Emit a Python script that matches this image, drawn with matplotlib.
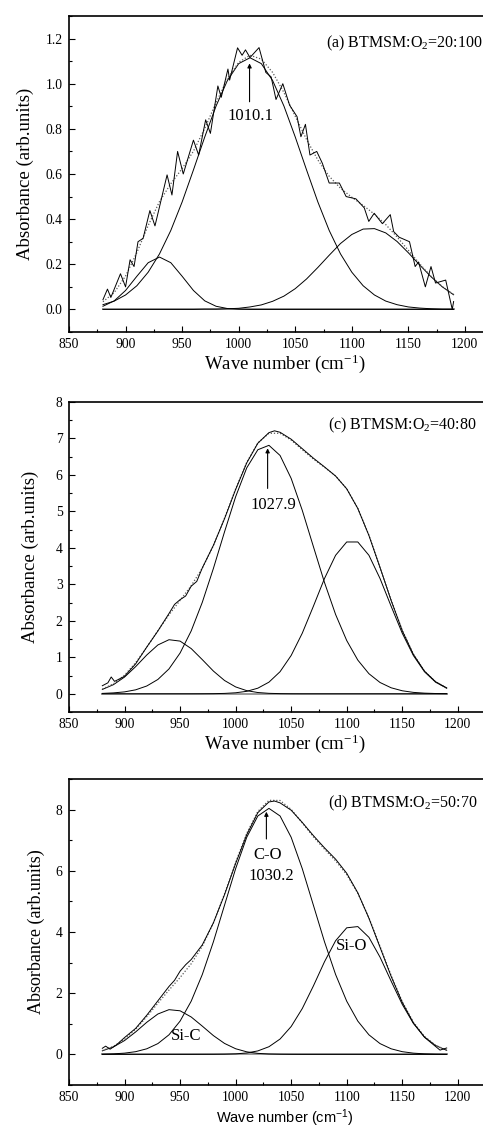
import matplotlib
matplotlib.use("Agg")
import matplotlib.pyplot as plt
from matplotlib.ticker import MultipleLocator, FormatStrFormatter

plt.rcParams['font.family'] = ['Liberation Serif', 'DejaVu Serif']
plt.rcParams['mathtext.fontset'] = 'custom'
plt.rcParams['mathtext.rm'] = 'Liberation Serif'
plt.rcParams['mathtext.it'] = 'Liberation Serif'
plt.rcParams['mathtext.sf'] = 'Liberation Sans'

# common wave number grid of the fitted curves (cm-1)
wn = [880, 890, 900, 910, 920, 930, 940, 950, 960, 970, 980, 990, 1000, 1010,
      1020, 1030, 1040, 1050, 1060, 1070, 1080, 1090, 1100, 1110, 1120, 1130,
      1140, 1150, 1160, 1170, 1180, 1190]
base_x = [880, 1190]
base_y = [0, 0]

# ---- (a) BTMSM:O2 = 20:100 ----
a_meas_x = [880, 884, 887, 895.5, 900, 904, 907.5, 911, 915.5, 921.5, 926, 936.7,
            941, 946, 951, 960, 964.6, 970.8, 975, 981.6, 984.6, 990.5, 992, 999,
            1003, 1006, 1010, 1018, 1024, 1028.7, 1033, 1039, 1045, 1051.6, 1055,
            1059, 1063, 1069, 1074, 1080, 1089, 1095, 1103.6, 1111, 1115, 1119.8,
            1127, 1134, 1137, 1141.8, 1151, 1156, 1159, 1165, 1170, 1174, 1183,
            1188.8, 1190]
a_meas_y = [0.043, 0.09, 0.053, 0.158, 0.10, 0.22, 0.19, 0.30, 0.315, 0.438, 0.37,
            0.596, 0.507, 0.70, 0.60, 0.75, 0.684, 0.84, 0.78, 0.99, 0.94, 1.065,
            1.016, 1.159, 1.126, 1.15, 1.116, 1.16, 1.05, 1.03, 0.93, 1.00, 0.905,
            0.854, 0.765, 0.82, 0.684, 0.70, 0.647, 0.56, 0.56, 0.50, 0.49, 0.45,
            0.39, 0.426, 0.38, 0.42, 0.345, 0.32, 0.30, 0.19, 0.21, 0.10, 0.19,
            0.117, 0.13, 0.0, 0.035]
a_fit = [0.034, 0.075, 0.148, 0.252, 0.372, 0.478, 0.557, 0.624, 0.701, 0.802, 0.916,
         1.021, 1.095, 1.126, 1.109, 1.050, 0.961, 0.856, 0.753, 0.662, 0.590, 0.537,
         0.497, 0.461, 0.422, 0.376, 0.321, 0.262, 0.202, 0.147, 0.101, 0.066]
a_p1 = [0.014, 0.038, 0.084, 0.147, 0.207, 0.232, 0.207, 0.147, 0.084, 0.038, 0.014,
        0.004, 0.001, 0, 0, 0, 0, 0, 0, 0, 0, 0, 0, 0, 0, 0, 0, 0, 0, 0, 0, 0]
a_p2 = [0.021, 0.037, 0.064, 0.105, 0.165, 0.246, 0.350, 0.476, 0.618, 0.764, 0.901,
        1.014, 1.089, 1.115, 1.089, 1.014, 0.901, 0.764, 0.618, 0.476, 0.350, 0.246,
        0.165, 0.105, 0.064, 0.037, 0.021, 0.011, 0.006, 0.003, 0.001, 0.001]
a_p3 = [0, 0, 0, 0, 0, 0, 0, 0, 0.000, 0.001, 0.001, 0.003, 0.005, 0.011, 0.020,
        0.036, 0.059, 0.092, 0.135, 0.186, 0.240, 0.292, 0.332, 0.356, 0.358, 0.339,
        0.301, 0.251, 0.197, 0.145, 0.100, 0.065]

# ---- (c) BTMSM:O2 = 40:80 ----
c_meas_x = [880, 885, 888, 891, 895, 900, 910, 920, 930, 940, 945, 950, 955, 960,
            965, 970, 980, 990, 1000, 1010, 1020, 1030, 1035, 1040, 1050, 1060, 1070,
            1080, 1090, 1100, 1110, 1120, 1130, 1140, 1150, 1160, 1170, 1180, 1190]
c_meas_y = [0.22, 0.30, 0.46, 0.34, 0.40, 0.48, 0.82, 1.28, 1.72, 2.20, 2.45, 2.58,
            2.68, 2.95, 3.08, 3.45, 4.07, 4.80, 5.60, 6.33, 6.87, 7.16, 7.21, 7.17,
            6.98, 6.72, 6.46, 6.22, 5.97, 5.62, 5.08, 4.34, 3.46, 2.56, 1.73, 1.08,
            0.62, 0.33, 0.16]
c_fit = [0.129, 0.272, 0.511, 0.852, 1.276, 1.730, 2.163, 2.561, 2.962, 3.445, 4.062,
         4.813, 5.616, 6.345, 6.878, 7.142, 7.143, 6.956, 6.691, 6.435, 6.211, 5.971,
         5.622, 5.085, 4.347, 3.469, 2.562, 1.743, 1.088, 0.622, 0.325, 0.156]
c_p1 = [0.119, 0.249, 0.458, 0.744, 1.063, 1.338, 1.482, 1.444, 1.239, 0.936, 0.622,
        0.364, 0.188, 0.085, 0.034, 0.012, 0.004, 0.001, 0, 0, 0, 0, 0, 0, 0, 0, 0,
        0, 0, 0, 0, 0]
c_p2 = [0.010, 0.024, 0.052, 0.108, 0.213, 0.392, 0.681, 1.117, 1.723, 2.508, 3.437,
        4.439, 5.401, 6.194, 6.691, 6.812, 6.534, 5.905, 5.029, 4.036, 3.051, 2.174,
        1.460, 0.923, 0.550, 0.309, 0.164, 0.082, 0.038, 0.017, 0.007, 0.003]
c_p3 = [0, 0, 0, 0, 0, 0, 0, 0, 0, 0.001, 0.003, 0.010, 0.027, 0.067, 0.153, 0.318,
        0.605, 1.050, 1.661, 2.399, 3.160, 3.797, 4.162, 4.162, 3.797, 3.160, 2.399,
        1.661, 1.050, 0.605, 0.318, 0.153]

# ---- (d) BTMSM:O2 = 50:70 ----
d_meas_x = [880, 883, 887, 893, 900, 910, 920, 930, 940, 945, 950, 955, 960, 970,
            980, 990, 1000, 1010, 1020, 1030, 1035, 1040, 1050, 1060, 1070, 1080,
            1090, 1100, 1110, 1120, 1130, 1140, 1150, 1160, 1170, 1180, 1184, 1190]
d_meas_y = [0.20, 0.27, 0.17, 0.32, 0.55, 0.85, 1.28, 1.75, 2.22, 2.42, 2.72, 2.93,
            3.10, 3.58, 4.30, 5.22, 6.24, 7.18, 7.90, 8.25, 8.28, 8.22, 7.98, 7.58,
            7.15, 6.75, 6.38, 5.92, 5.28, 4.45, 3.50, 2.55, 1.70, 1.03, 0.56, 0.26,
            0.14, 0.21]
d_fit = [0.124, 0.263, 0.493, 0.823, 1.232, 1.673, 2.102, 2.513, 2.962, 3.535, 4.297,
         5.242, 6.271, 7.226, 7.940, 8.303, 8.298, 8.007, 7.567, 7.112, 6.707, 6.326,
         5.876, 5.265, 4.466, 3.531, 2.577, 1.725, 1.055, 0.587, 0.298, 0.137]
d_p1 = [0.117, 0.245, 0.452, 0.734, 1.049, 1.320, 1.462, 1.425, 1.223, 0.924, 0.614,
        0.359, 0.185, 0.084, 0.034, 0.012, 0.004, 0.001, 0, 0, 0, 0, 0, 0, 0, 0, 0,
        0, 0, 0, 0, 0]
d_p2 = [0.007, 0.018, 0.041, 0.089, 0.183, 0.353, 0.640, 1.088, 1.739, 2.611, 3.681,
        4.876, 6.069, 7.095, 7.792, 8.040, 7.792, 7.095, 6.069, 4.876, 3.681, 2.611,
        1.739, 1.088, 0.640, 0.353, 0.183, 0.089, 0.041, 0.018, 0.007, 0.003]
d_p3 = [0, 0, 0, 0, 0, 0, 0, 0, 0, 0.001, 0.002, 0.006, 0.017, 0.047, 0.114, 0.251,
        0.502, 0.911, 1.498, 2.236, 3.027, 3.715, 4.137, 4.177, 3.826, 3.178, 2.394,
        1.636, 1.014, 0.570, 0.291, 0.134]

fig = plt.figure(figsize=(4.83, 11.28), dpi=100)
W, H = 483.0, 1128.0


# axes placed in pixel units, right side runs off the figure like the original scan
def make_axes(top, bottom, xmax, ylim, major, minor):
    ax = fig.add_axes([69 / W, 1 - bottom / H, 431 / W, (bottom - top) / H])
    ax.set_xlim(850, xmax)
    ax.set_ylim(*ylim)
    ax.xaxis.set_major_locator(MultipleLocator(50))
    ax.xaxis.set_minor_locator(MultipleLocator(25))
    ax.yaxis.set_major_locator(MultipleLocator(major))
    ax.yaxis.set_minor_locator(MultipleLocator(minor))
    ax.tick_params(which='both', direction='in', top=False, right=False,
                   labelsize=9.8, width=0.8, pad=4.5)
    ax.tick_params(which='major', length=4.3)
    ax.tick_params(which='minor', length=2.4)
    for s in ax.spines.values():
        s.set_linewidth(1.2)
    return ax


def draw_curves(ax, mx, my, fit, parts):
    ax.plot(base_x, base_y, color='0.6', lw=1.4)
    for p in parts:
        ax.plot(wn, p, color='black', lw=0.7)
    ax.plot(wn, fit, color='0.35', lw=0.9, linestyle=(0, (1, 1.5)))
    ax.plot(mx, my, color='black', lw=0.7)


def arrow(ax, x, y0, y1):
    ax.annotate('', xy=(x, y1), xytext=(x, y0),
                arrowprops=dict(arrowstyle='-|>', color='black', lw=0.8,
                                mutation_scale=6, shrinkA=0, shrinkB=0))


xlab = 'Wave number (cm$^{-1}$)'
ylab = 'Absorbance (arb.units)'

# panel (a)
ax1 = make_axes(16, 332, 1231, (-0.1, 1.3), 0.2, 0.1)
draw_curves(ax1, a_meas_x, a_meas_y, a_fit, [a_p1, a_p2, a_p3])
ax1.yaxis.set_major_formatter(FormatStrFormatter('%.1f'))
arrow(ax1, 1009.6, 0.92, 1.09)
ax1.text(1010, 0.855, '1010.1', ha='center', va='center', fontsize=12)
ax1.text(1216, 1.18, '(a) BTMSM:O$_2$=20:100', ha='right', va='center', fontsize=11.5)
ax1.set_xlabel(xlab, fontsize=13.5, labelpad=1)
ax1.set_ylabel(ylab, fontsize=13.5, labelpad=8.6)

# panel (c)
ax2 = make_axes(402, 712, 1238, (-0.5, 8), 1, 0.5)
draw_curves(ax2, c_meas_x, c_meas_y, c_fit, [c_p1, c_p2, c_p3])
arrow(ax2, 1028.8, 5.63, 6.73)
ax2.text(1034, 5.17, '1027.9', ha='center', va='center', fontsize=12)
ax2.text(1217, 7.37, '(c) BTMSM:O$_2$=40:80', ha='right', va='center', fontsize=11.5)
ax2.set_xlabel(xlab, fontsize=13.5, labelpad=1)
ax2.set_ylabel(ylab, fontsize=13.5, labelpad=12)

# panel (d)
ax3 = make_axes(779, 1085, 1238, (-1, 9), 2, 1)
draw_curves(ax3, d_meas_x, d_meas_y, d_fit, [d_p1, d_p2, d_p3])
arrow(ax3, 1027.7, 7.04, 7.93)
ax3.text(1028.6, 6.52, 'C-O', ha='center', va='center', fontsize=12)
ax3.text(1032, 5.82, '1030.2', ha='center', va='center', fontsize=12)
ax3.text(955.7, 0.6, 'Si-C', ha='center', va='center', fontsize=12)
ax3.text(1104, 3.53, 'Si-O', ha='center', va='center', fontsize=12)
ax3.text(1218, 8.2, '(d) BTMSM:O$_2$=50:70', ha='right', va='center', fontsize=11.5)
ax3.set_xlabel('Wave number (cm$\\mathsf{^{-1}}$)', fontsize=10.5, labelpad=2,
               family=['Liberation Sans', 'DejaVu Sans'])
ax3.set_ylabel(ylab, fontsize=13, labelpad=7.7)

plt.savefig("out.png", dpi=100)
